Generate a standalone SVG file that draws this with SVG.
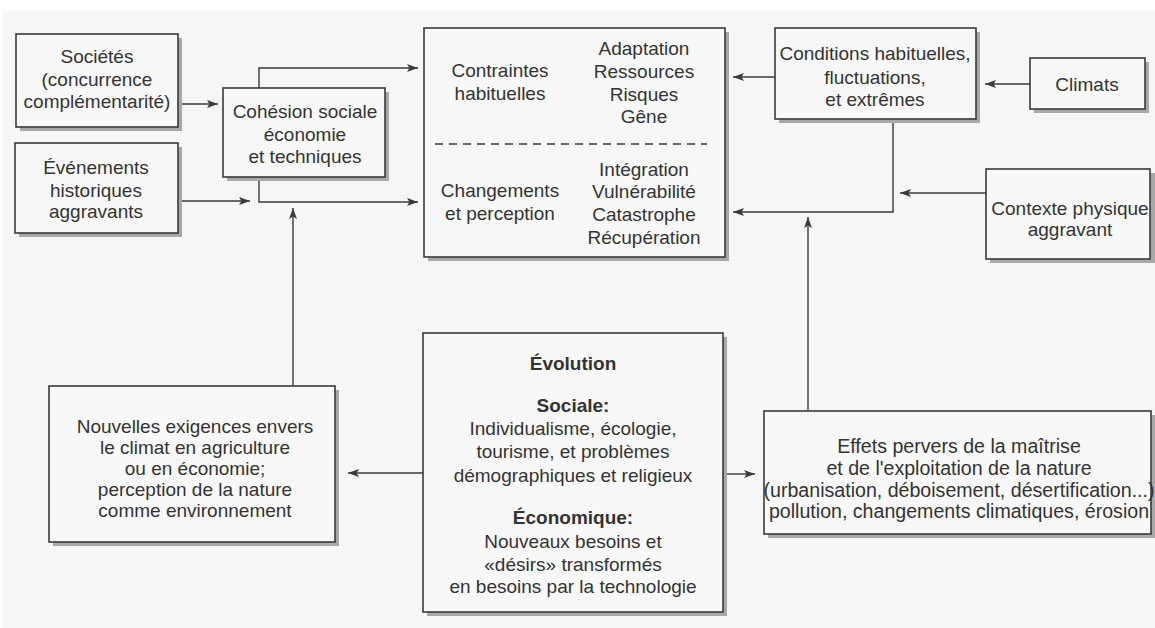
<svg xmlns="http://www.w3.org/2000/svg" width="1155" height="628" viewBox="0 0 1155 628">
<style>
.box{fill:#f8f8f8;stroke:#3a3a3a;stroke-width:1.6}
.sh{fill:#a8a8a8}
.t{font-family:"Liberation Sans",Arial,sans-serif;font-size:19px;fill:#333;text-anchor:middle}
.w{font-size:19.6px}
.b{font-weight:bold}
.c{fill:none;stroke:#3a3a3a;stroke-width:1.4}
</style>
<defs>
<marker id="ah" markerUnits="userSpaceOnUse" markerWidth="12" markerHeight="9" refX="11" refY="4" orient="auto">
<path d="M0,0 L11,4 L0,8 L2.5,4 z" fill="#3a3a3a"/>
</marker>
</defs>
<rect x="0" y="0" width="1155" height="628" fill="#ffffff"/>
<rect x="3" y="11" width="1152" height="617" fill="#f6f6f6"/>

<g id="connectors">
<path class="c" d="M178,104 H218" marker-end="url(#ah)"/>
<path class="c" d="M178,201 H250" marker-end="url(#ah)"/>
<path class="c" d="M259,88 V68 H418" marker-end="url(#ah)"/>
<path class="c" d="M259,177 V202 H418" marker-end="url(#ah)"/>
<path class="c" d="M293,386 V208" marker-end="url(#ah)"/>
<path class="c" d="M775,77 H733" marker-end="url(#ah)"/>
<path class="c" d="M1030,84 H985" marker-end="url(#ah)"/>
<path class="c" d="M893,119 V212 H733" marker-end="url(#ah)"/>
<path class="c" d="M986,193 H900" marker-end="url(#ah)"/>
<path class="c" d="M808,410 V217" marker-end="url(#ah)"/>
<path class="c" d="M723,474 H755" marker-end="url(#ah)"/>
<path class="c" d="M423,473 H348" marker-end="url(#ah)"/>
</g>

<g id="societes">
<rect class="sh" x="20" y="38" width="162" height="93"/>
<rect class="box" x="16" y="34" width="162" height="93"/>
<text class="t" x="97" y="63">Sociétés</text>
<text class="t" x="97" y="86">(concurrence</text>
<text class="t" x="97" y="108">complémentarité)</text>
</g>

<g id="evenements">
<rect class="sh" x="19" y="147" width="163" height="90"/>
<rect class="box" x="15" y="143" width="163" height="90"/>
<text class="t" x="96" y="174">Événements</text>
<text class="t" x="96" y="197">historiques</text>
<text class="t" x="96" y="218">aggravants</text>
</g>

<g id="cohesion">
<rect class="sh" x="227" y="92" width="162" height="89"/>
<rect class="box" x="223" y="88" width="162" height="89"/>
<text class="t" x="305" y="118">Cohésion sociale</text>
<text class="t" x="305" y="141">économie</text>
<text class="t" x="305" y="163">et techniques</text>
</g>

<g id="contraintes">
<rect class="sh" x="428" y="32" width="301" height="229"/>
<rect class="box" x="424" y="28" width="301" height="229"/>
<line x1="435" y1="144" x2="707" y2="144" stroke="#3a3a3a" stroke-width="1.3" stroke-dasharray="8,6"/>
<text class="t" x="500" y="77">Contraintes</text>
<text class="t" x="500" y="100">habituelles</text>
<text class="t" x="644" y="55">Adaptation</text>
<text class="t" x="644" y="78">Ressources</text>
<text class="t" x="644" y="101">Risques</text>
<text class="t" x="644" y="123">Gêne</text>
<text class="t" x="500" y="197">Changements</text>
<text class="t" x="500" y="220">et perception</text>
<text class="t" x="644" y="176">Intégration</text>
<text class="t" x="644" y="198">Vulnérabilité</text>
<text class="t" x="644" y="221">Catastrophe</text>
<text class="t" x="644" y="244">Récupération</text>
</g>

<g id="conditions">
<rect class="sh" x="779" y="32" width="201" height="91"/>
<rect class="box" x="775" y="28" width="201" height="91"/>
<text class="t" x="875" y="60">Conditions habituelles,</text>
<text class="t" x="875" y="84">fluctuations,</text>
<text class="t" x="875" y="106">et extrêmes</text>
</g>

<g id="climats">
<rect class="sh" x="1034" y="62" width="115" height="51"/>
<rect class="box" x="1030" y="58" width="115" height="51"/>
<text class="t" x="1087" y="91">Climats</text>
</g>

<g id="contexte">
<rect class="sh" x="990" y="173" width="165" height="90"/>
<rect class="box" x="986" y="169" width="164" height="90"/>
<text class="t" x="1070" y="215">Contexte physique</text>
<text class="t" x="1070" y="236">aggravant</text>
</g>

<g id="nouvelles">
<rect class="sh" x="53" y="390" width="286" height="156"/>
<rect class="box" x="49" y="386" width="286" height="156"/>
<text class="t" x="195" y="433">Nouvelles exigences envers</text>
<text class="t" x="195" y="454">le climat en agriculture</text>
<text class="t" x="195" y="475">ou en économie;</text>
<text class="t" x="195" y="496">perception de la nature</text>
<text class="t" x="195" y="517">comme environnement</text>
</g>

<g id="evolution">
<rect class="sh" x="427" y="337" width="300" height="279"/>
<rect class="box" x="423" y="333" width="300" height="279"/>
<text class="t b" x="573" y="370">Évolution</text>
<text class="t b" x="573" y="412">Sociale:</text>
<text class="t" x="573" y="435">Individualisme, écologie,</text>
<text class="t" x="573" y="458">tourisme, et problèmes</text>
<text class="t" x="573" y="482">démographiques et religieux</text>
<text class="t b" x="573" y="524">Économique:</text>
<text class="t" x="573" y="548">Nouveaux besoins et</text>
<text class="t" x="573" y="571">«désirs» transformés</text>
<text class="t" x="573" y="593">en besoins par la technologie</text>
</g>

<g id="effets">
<rect class="sh" x="768" y="415" width="387" height="123"/>
<rect class="box" x="764" y="411" width="387" height="123"/>
<text class="t w" x="959" y="453">Effets pervers de la maîtrise</text>
<text class="t w" x="959" y="475">et de l'exploitation de la nature</text>
<text class="t w" x="959" y="497">(urbanisation, déboisement, désertification...)</text>
<text class="t w" x="959" y="518">pollution, changements climatiques, érosion</text>
</g>
</svg>
